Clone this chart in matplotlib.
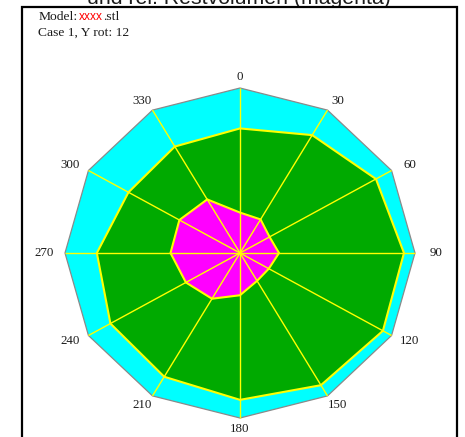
import numpy as np
import matplotlib
matplotlib.use("Agg")
import matplotlib.pyplot as plt
from matplotlib.patches import Polygon, Rectangle

# ---- data ----
angles_deg = [0, 30, 60, 90, 120, 150, 180, 210, 240, 270, 300, 330]
angle_labels = ["0", "30", "60", "90", "120", "150", "180", "210", "240", "270", "300", "330"]
outer_values = [1.0] * 12
green_values = [0.755, 0.825, 0.897, 0.937, 0.943, 0.925, 0.89, 0.866, 0.855, 0.818, 0.736, 0.745]
magenta_values = [0.245, 0.235, 0.195, 0.223, 0.19, 0.195, 0.256, 0.32, 0.357, 0.397, 0.40, 0.375]
title_text = "und rel. Restvolumen (magenta)"
model_prefix = "Model:"
model_name = "xxxx"
model_suffix = ".stl"
case_text = "Case 1, Y rot: 12"

W, H = 465, 437
fig = plt.figure(figsize=(W / 100, H / 100), dpi=100)
fig.patch.set_facecolor("white")

# axes spanning the full figure; center at (240, 253) px, radius 175 px (x) and 165 px (y)
cx, cy, rx, ry = 240.0, 253.0, 175.0, 165.0
ax = fig.add_axes([0, 0, 1, 1])
ax.set_xlim(-cx / rx, (W - cx) / rx)
ax.set_ylim(-(H - cy) / ry, cy / ry)
ax.set_axis_off()

th = np.radians(angles_deg)


def xy(vals):
    v = np.asarray(vals, dtype=float)
    return np.column_stack([v * np.sin(th), v * np.cos(th)])


ax.add_patch(Polygon(xy(outer_values), closed=True, facecolor="#00FFFF",
                     edgecolor="#8a8a8a", linewidth=0.9, zorder=1))
ax.add_patch(Polygon(xy(green_values), closed=True, facecolor="#00AA00",
                     edgecolor="#FFFF00", linewidth=1.5, zorder=2))
ax.add_patch(Polygon(xy(magenta_values), closed=True, facecolor="#FF00FF",
                     edgecolor="#FFFF00", linewidth=1.5, zorder=3))

for a, o in zip(th, outer_values):
    ax.plot([0, o * np.sin(a)], [0, o * np.cos(a)], color="#FFFF00", lw=1.0, zorder=4,
            solid_capstyle="butt")

for a, lab in zip(th, angle_labels):
    ax.text(1.12 * np.sin(a), 1.067 * np.cos(a), lab, ha="center", va="center",
            fontsize=9.3, family="Liberation Serif", color="#1a1a1a", zorder=5)

# frame
fig.add_artist(Rectangle((22 / W, -0.05), (456.5 - 22) / W, 1.05 - 6.5 / H,
                         transform=fig.transFigure, fill=False, edgecolor="black",
                         linewidth=1.6, zorder=10))

# title (cut off at top)
fig.text(239 / W, 1 - 4.5 / H, title_text, ha="center", va="baseline",
         fontsize=15.3, family="Liberation Sans", color="#1a1a1a")

# header
fig.text(38.3 / W, 1 - 19.5 / H, model_prefix, ha="left", va="baseline",
         fontsize=9.7, family="Liberation Serif", color="#1a1a1a")
fig.text(78.7 / W, 1 - 19.5 / H, model_name, ha="left", va="baseline",
         fontsize=8.6, family="Liberation Sans", color="#FF0000")
fig.text(102.7 / W, 1 - 19.5 / H, model_suffix, ha="left", va="baseline",
         fontsize=9.7, family="Liberation Serif", color="#1a1a1a")
fig.text(38.3 / W, 1 - 36 / H, case_text, ha="left", va="baseline",
         fontsize=9.7, family="Liberation Serif", color="#1a1a1a")

fig.savefig("out.png", dpi=100)
